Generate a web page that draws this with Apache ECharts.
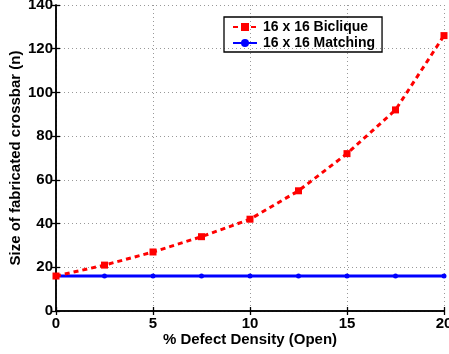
<!DOCTYPE html>
<html><head><meta charset="utf-8">
<script src="https://cdn.jsdelivr.net/npm/echarts@6/dist/echarts.min.js"></script>
<style>html,body{margin:0;padding:0;background:#fff}#c{width:449px;height:354px}</style>
</head><body><div id="c"></div>
<script>
const defectDensity = [0, 2.5, 5, 7.5, 10, 12.5, 15, 17.5, 20];
const biclique = [16, 21, 27, 34, 42, 55, 72, 92, 126];
const matching = [16, 16, 16, 16, 16, 16, 16, 16, 16];
const xTicks = [0, 5, 10, 15, 20];
const yTicks = [0, 20, 40, 60, 80, 100, 120, 140];
const seriesNames = ['16 x 16 Biclique', '16 x 16 Matching'];
const xTitle = '% Defect Density (Open)';
const yTitle = 'Size of fabricated crossbar (n)';

const FONT = 'Liberation Sans';
const chart = echarts.init(document.getElementById('c'), null, {renderer: 'canvas'});
const pairs = (ys) => defectDensity.map((x, i) => [x, ys[i]]);
const gridLine = {show: true, lineStyle: {color: '#999', type: [1, 3], width: 1}};
const tick = {show: true, inside: true, length: 4, lineStyle: {color: '#000', width: 1.3}};
const axLine = {show: true, lineStyle: {color: '#000', width: 1.5}};
chart.setOption({
  animation: false,
  backgroundColor: '#fff',
  grid: {left: 56, right: 5, top: 5, bottom: 43, outerBoundsMode: 'none', show: false},
  legend: {
    orient: 'vertical', left: 224, top: 17,
    borderColor: '#000', borderWidth: 1.3, padding: [3, 7, 2, 8], itemGap: 2,
    itemWidth: 24, itemHeight: 10,
    textStyle: {fontFamily: FONT, fontWeight: 'bold', fontSize: 14, color: '#000', padding: [0, 0, 0, 1]},
    data: seriesNames
  },
  xAxis: [{
    type: 'value', min: xTicks[0], max: xTicks[xTicks.length - 1], interval: 5,
    name: xTitle, nameLocation: 'middle', nameGap: 21, nameMoveOverlap: false,
    nameTextStyle: {fontFamily: FONT, fontWeight: 'bold', fontSize: 15, color: '#000'},
    axisLine: axLine, axisTick: tick,
    axisLabel: {fontFamily: FONT, fontWeight: 'bold', fontSize: 15, color: '#000', margin: 5},
    splitLine: gridLine
  }, {
    type: 'value', position: 'top', min: 0, max: 20, interval: 5,
    axisLine: axLine, axisTick: tick,
    axisLabel: {show: false}, splitLine: {show: false}
  }],
  yAxis: [{
    type: 'value', min: yTicks[0], max: yTicks[yTicks.length - 1], interval: 20,
    name: yTitle, nameLocation: 'middle', nameGap: 33, nameMoveOverlap: false,
    nameTextStyle: {fontFamily: FONT, fontWeight: 'bold', fontSize: 15, color: '#000'},
    axisLine: axLine, axisTick: tick,
    axisLabel: {fontFamily: FONT, fontWeight: 'bold', fontSize: 15, color: '#000', margin: 3},
    splitLine: gridLine
  }, {
    type: 'value', position: 'right', min: 0, max: 140, interval: 20,
    axisLine: axLine, axisTick: tick,
    axisLabel: {show: false}, splitLine: {show: false}
  }],
  series: [{
    name: seriesNames[0], type: 'line', data: pairs(biclique), z: 3,
    symbol: 'rect', symbolSize: 7, showAllSymbol: true,
    lineStyle: {color: '#ff0000', width: 3, type: [5, 4]},
    itemStyle: {color: '#ff0000'}
  }, {
    name: seriesNames[1], type: 'line', data: pairs(matching), z: 2,
    symbol: 'circle', symbolSize: 5, showAllSymbol: true,
    lineStyle: {color: '#0000ff', width: 3},
    itemStyle: {color: '#0000ff'}
  }]
});
</script></body></html>
